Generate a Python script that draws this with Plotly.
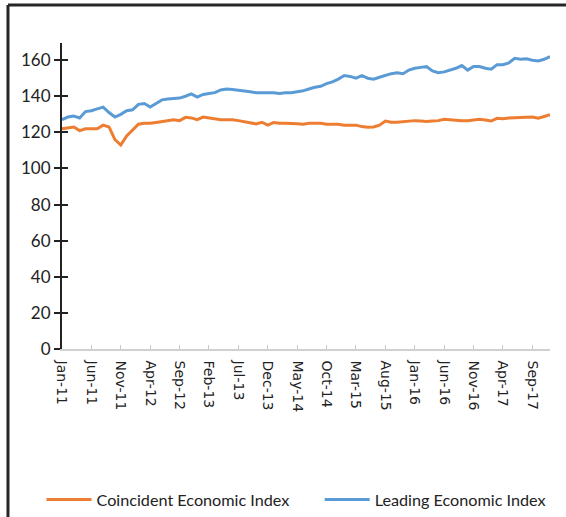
import pandas as pd
import plotly.graph_objects as go

months = list(pd.date_range("2011-01-01", periods=84, freq="MS").strftime("%b-%y"))

leading = [127, 128.5, 129, 128, 131.5, 132, 133, 134, 131, 128.5,
           130, 132, 132.5, 135.5, 136, 134, 136, 138, 138.5, 138.6,
           139, 140, 141.3, 139.5, 141, 141.5, 142, 143.5, 144, 143.8,
           143.5, 143, 142.5, 142, 142, 141.6, 142, 141.5, 142, 142,
           142.5, 143, 144, 145, 145.5, 147, 148, 149.5, 151.5, 151,
           150, 151.4, 150, 149.5, 150.5, 151.5, 152.5, 153, 152.5, 154.5,
           155.5, 156, 156.4, 154, 153, 153.5, 154.5, 155.5, 157, 154.5,
           156.5, 156.5, 155.5, 155, 157.5, 157.5, 158.5, 161, 160.5, 160.8,
           160, 159.6, 160.5, 162]

coincident = [122, 122.5, 123, 121, 122, 122, 122, 124, 123, 116,
              113, 118, 121, 124.5, 125, 125, 125.5, 126, 126.5, 127,
              126.5, 128.3, 128, 127, 128.5, 128, 127.5, 127, 127, 127,
              126.5, 126, 125.5, 124.7, 125.6, 124, 125.5, 125, 125, 125,
              124.8, 124.5, 125, 125, 125, 124.5, 124.5, 124.5, 124, 124,
              124, 123.2, 122.8, 123, 124, 126.3, 125.6, 125.6, 126, 126.5,
              126.5, 126.3, 126, 126.3, 126.5, 127.3, 127, 126.5, 126.5, 126.5,
              127, 127.3, 126.8, 126.3, 127.8, 127.5, 128, 128, 128.3, 128.4,
              128.5, 127.8, 128.8, 129.8]

tick_labels = months[::5]
y_ticks = [0, 20, 40, 60, 80, 100, 120, 140, 160]

fig = go.Figure()
fig.add_trace(go.Scatter(x=months, y=coincident, mode="lines",
                         name="Coincident Economic Index", legend="legend",
                         line=dict(color="#ED7D31", width=3)))
fig.add_trace(go.Scatter(x=months, y=leading, mode="lines",
                         name="Leading Economic Index", legend="legend2",
                         line=dict(color="#5B9BD5", width=3)))
# invisible trace on second y axis to draw crossing ticks
fig.add_trace(go.Scatter(x=months[:1], y=[0], yaxis="y2", showlegend=False,
                         mode="markers", marker=dict(opacity=0), hoverinfo="skip"))

legend_common = dict(orientation="h", yanchor="middle", y=-0.493, xanchor="left",
                     font=dict(family="Lato, sans-serif", size=16.2, color="#222222"),
                     itemwidth=45, bgcolor="rgba(0,0,0,0)")

fig.update_layout(
    width=566, height=517,
    paper_bgcolor="white", plot_bgcolor="white",
    margin=dict(l=62, r=16, t=43, b=168, autoexpand=False),
    font=dict(family="Lato, sans-serif", color="#222222"),
    xaxis=dict(type="category", categoryorder="array", categoryarray=months,
               range=[0, 83], showgrid=False, showline=True, linecolor="#d0d0d0", linewidth=1.5,
               ticks="inside", ticklen=4, tickcolor="#c8c8c8",
               tickmode="array", tickvals=tick_labels, ticktext=tick_labels,
               tickangle=90, ticklabelstandoff=7,
               tickfont=dict(family="DejaVu Sans, sans-serif", size=14, color="#222222"),
               zeroline=False),
    yaxis=dict(range=[0, 169.5], showgrid=False, showline=True, linecolor="#222222", linewidth=2,
               ticks="outside", ticklen=6, tickwidth=2, tickcolor="#222222",
               tickmode="array", tickvals=y_ticks,
               tickfont=dict(family="Lato, sans-serif", size=17, color="#222222"), zeroline=False),
    yaxis2=dict(range=[0, 169.5], overlaying="y", side="left", showgrid=False, showline=False,
                ticks="inside", ticklen=6, tickwidth=2, tickcolor="#222222",
                tickmode="array", tickvals=y_ticks, showticklabels=False, zeroline=False),
    legend=dict(legend_common, x=-0.042),
    legend2=dict(legend_common, x=0.528),
    shapes=[
        dict(type="line", xref="paper", yref="paper", x0=-0.1107, x1=1.04, y0=1.124, y1=1.124,
             line=dict(color="#262626", width=3)),
        dict(type="line", xref="paper", yref="paper", x0=-0.1107, x1=-0.1107, y0=1.124, y1=-0.56,
             line=dict(color="#262626", width=3)),
    ],
)

fig.write_html("out.html", config={"displayModeBar": False},
               post_script="document.body.style.margin='0';document.body.style.overflow='hidden';")
